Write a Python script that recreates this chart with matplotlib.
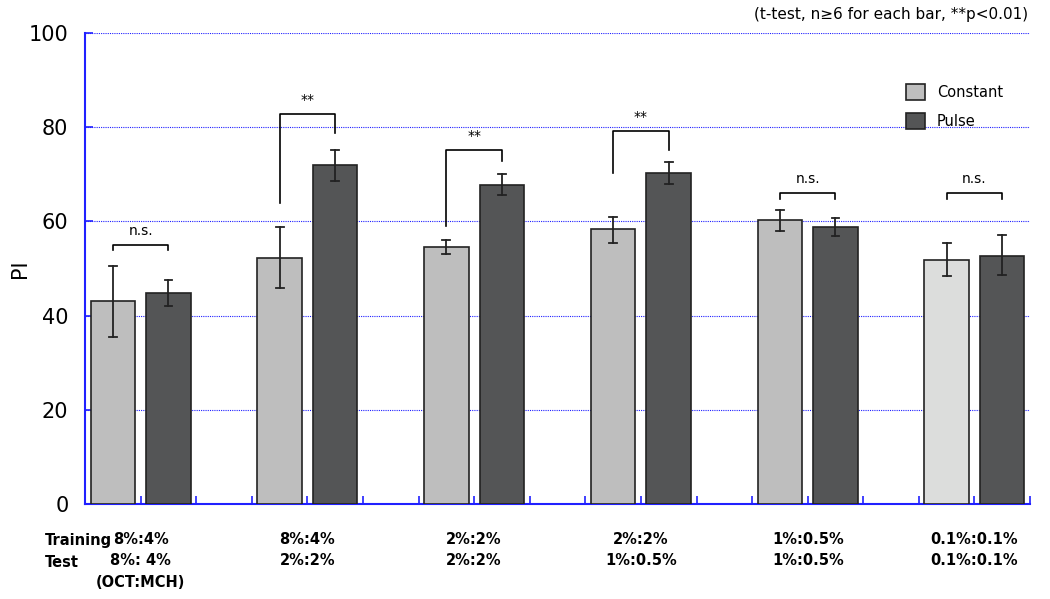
import matplotlib
matplotlib.use('Agg')
import matplotlib.pyplot as plt

training = ['8%:4%', '8%:4%', '2%:2%', '2%:2%', '1%:0.5%', '0.1%:0.1%']
test = ['8%: 4%', '2%:2%', '2%:2%', '1%:0.5%', '1%:0.5%', '0.1%:0.1%']

constant = [43.0, 52.3, 54.5, 58.3, 60.2, 51.8]
constant_lo = [35.5, 45.8, 53.0, 55.5, 58.0, 48.5]
constant_hi = [50.5, 58.8, 56.0, 61.0, 62.5, 55.5]
pulse = [44.7, 72.0, 67.7, 70.2, 58.8, 52.7]
pulse_lo = [42.0, 68.5, 65.5, 68.0, 56.8, 48.7]
pulse_hi = [47.5, 75.2, 70.0, 72.5, 60.8, 57.0]

# significance brackets: top, left leg end, right leg end, label
brackets = [
    [55.0, 54.0, 54.0, 'n.s.'],
    [82.8, 64.0, 78.8, '**'],
    [75.2, 59.0, 72.8, '**'],
    [79.2, 70.3, 75.2, '**'],
    [66.0, 64.8, 64.8, 'n.s.'],
    [66.0, 64.8, 64.8, 'n.s.'],
]

const_colors = ['#bebebe'] * 5 + ['#dcdddc']
blue = '#2020ff'

fig = plt.figure(figsize=(10.5, 5.99), dpi=100)
ax = fig.add_axes([0.081, 0.1586, 0.9, 0.7864])

xc = [3 * g for g in range(6)]
xp = [3 * g + 1 for g in range(6)]

ax.bar(xc, constant, width=0.8, color=const_colors, edgecolor='#222222', linewidth=1.2, zorder=3, label='Constant')
ax.bar(xp, pulse, width=0.8, color='#545556', edgecolor='#222222', linewidth=1.2, zorder=3, label='Pulse')

for i in range(6):
    ax.plot([xc[i]] * 2, [constant_lo[i], constant_hi[i]], color='#222222', lw=1.3, zorder=4)
    ax.plot([xc[i] - 0.07, xc[i] + 0.07], [constant_lo[i]] * 2, color='#222222', lw=1.3, zorder=4)
    ax.plot([xc[i] - 0.07, xc[i] + 0.07], [constant_hi[i]] * 2, color='#222222', lw=1.3, zorder=4)
    ax.plot([xp[i]] * 2, [pulse_lo[i], pulse_hi[i]], color='#222222', lw=1.3, zorder=4)
    ax.plot([xp[i] - 0.07, xp[i] + 0.07], [pulse_lo[i]] * 2, color='#222222', lw=1.3, zorder=4)
    ax.plot([xp[i] - 0.07, xp[i] + 0.07], [pulse_hi[i]] * 2, color='#222222', lw=1.3, zorder=4)

    top, left, right, lab = brackets[i]
    ax.plot([xc[i], xc[i], xp[i], xp[i]], [left, top, top, right], color='black', lw=1.2, zorder=4)
    ax.text((xc[i] + xp[i]) / 2, top + 1.5, lab, ha='center', va='bottom', fontsize=10)

ax.set_xlim(-0.5, 16.5)
ax.set_ylim(0, 100)
ax.set_yticks(range(0, 101, 20))
ax.set_xticks([k - 0.5 for k in range(18)])
ax.set_xticklabels([])
ax.tick_params(axis='x', direction='in', length=6, color=blue, width=1.2)
ax.tick_params(axis='y', direction='in', length=6, color=blue, width=1.2, labelsize=15, pad=12)
ax.yaxis.grid(True, color=blue, linestyle=(0, (1, 1)), lw=0.8, zorder=0)
for s in ['top', 'right']:
    ax.spines[s].set_visible(False)
for s in ['left', 'bottom']:
    ax.spines[s].set_color(blue)
    ax.spines[s].set_linewidth(1.5)
ax.set_ylabel('PI', fontsize=15)
ax.yaxis.set_label_coords(-0.058, 0.5)

leg = ax.legend(loc='upper right', bbox_to_anchor=(0.985, 0.92), frameon=False, fontsize=10.5,
                handlelength=1.3, handleheight=1.3, labelspacing=0.9)

for i in range(6):
    xm = (xc[i] + xp[i]) / 2
    ax.text(xm, -7.5, training[i], ha='center', va='center', fontsize=10.5, fontweight='bold')
    ax.text(xm, -12.0, test[i], ha='center', va='center', fontsize=10.5, fontweight='bold')
ax.text(0.5, -16.6, '(OCT:MCH)', ha='center', va='center', fontsize=10.5, fontweight='bold')
fig.text(0.043, 0.097, 'Training', ha='left', va='center', fontsize=10.5, fontweight='bold')
fig.text(0.043, 0.061, 'Test', ha='left', va='center', fontsize=10.5, fontweight='bold')

fig.text(0.979, 0.975, '(t-test, n\u22656 for each bar, **p<0.01)', ha='right', va='center', fontsize=11)

fig.savefig('out.png', dpi=100)
